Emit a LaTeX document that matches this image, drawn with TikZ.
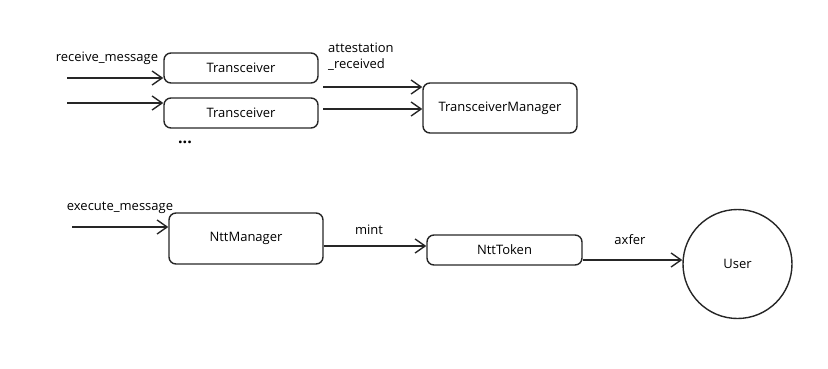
\documentclass[tikz,border=0pt]{standalone}
\usepackage{fontspec}
\setmainfont{Open Sans}
\usetikzlibrary{arrows.meta}
\begin{document}
\begin{tikzpicture}[x=1pt,y=-1pt,
  box/.style={draw=black!85,line width=1.4pt,rounded corners=7pt,inner sep=0pt,font=\fontsize{13}{15}\selectfont},
  conn/.style={draw=black!85,line width=1.6pt,-{Straight Barb[length=10pt,width=14pt,line width=1.4pt]}},
  lbl/.style={font=\fontsize{13}{16}\selectfont,inner sep=0pt}]
\useasboundingbox (0,0) rectangle (828,369);
\node[box,minimum width=154pt,minimum height=30pt] (t1) at (241,68) {Transceiver};
\node[box,minimum width=154pt,minimum height=30pt] (t2) at (241,113) {Transceiver};
\node[box,minimum width=154pt,minimum height=50pt] (tm) at (500,108) {TransceiverManager};
\node[box,minimum width=154pt,minimum height=51pt] (nm) at (246,238.5) {NttManager};
\node[box,minimum width=155pt,minimum height=30pt] (nt) at (504.5,250) {NttToken};
\node[draw=black!85,line width=1.4pt,circle,minimum size=109pt,inner sep=0pt,font=\fontsize{13}{15}\selectfont] (us) at (737.5,264) {User};
\coordinate (a1) at (67,78);
\coordinate (a2) at (67,103);
\coordinate (a3) at (72,227);
\draw[conn] (a1) -- (t1.west |- a1);
\draw[conn] (a2) -- (t2.west |- a2);
\draw[conn] (a3) -- (nm.west |- a3);
\draw[conn] (323,87) -- (tm.west |- 0,87);
\draw[conn] (323,109) -- (tm.west |- 0,109);
\draw[conn] (nm.east |- 0,246) -- (nt.west |- 0,246);
\draw[conn] (nt.east |- 0,260) -- (us.west |- 0,260);
\node[lbl] (l1) at (107,58) {receive\_message};
\node[lbl,align=left,anchor=north west] (l2) at (328,43) {attestation\\\_received};
\node[lbl] (l3) at (120,208) {execute\_message};
\node[lbl] (l4) at (369,230) {mint};
\node[lbl] (l5) at (630,240) {axfer};
\node[lbl,font=\fontsize{16}{16}\selectfont\bfseries] (dots) at (185,142) {...};
\end{tikzpicture}
\end{document}
